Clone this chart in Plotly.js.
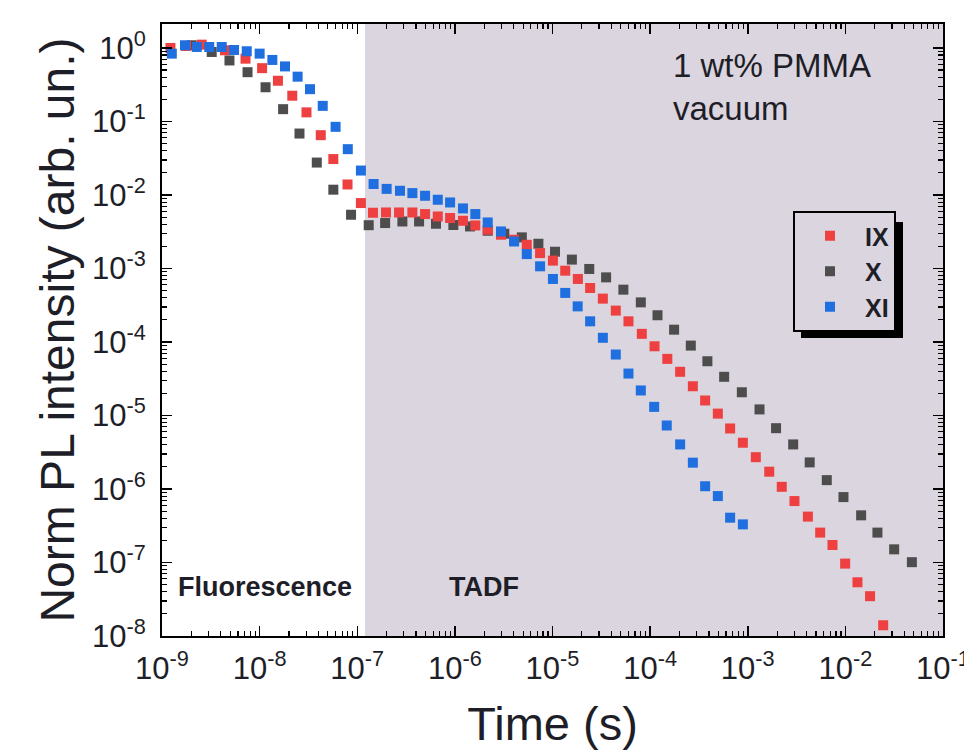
<!DOCTYPE html>
<html>
<head>
<meta charset="utf-8">
<script src="https://cdn.plot.ly/plotly-3.0.1.min.js"></script>
<style>html,body{margin:0;padding:0;background:#fff;}#chart{width:964px;height:752px;}</style>
</head>
<body>
<div id="chart"></div>
<script>
// ---- data ----
const seriesNames = ['IX', 'X', 'XI'];

const tIX = [1.22e-9, 1.76e-9, 2.55e-9, 4.42e-9, 7.17e-9, 1.06e-8, 1.54e-8, 2.16e-8, 3.02e-8, 4.23e-8,
  5.69e-8, 7.95e-8, 1.09e-7, 1.45e-7, 1.97e-7, 2.68e-7, 3.67e-7, 4.95e-7, 6.68e-7, 8.93e-7,
  1.21e-6, 1.62e-6, 2.17e-6, 2.97e-6, 4.04e-6, 5.45e-6, 7.46e-6, 1.01e-5, 1.35e-5, 1.82e-5,
  2.43e-5, 3.28e-5, 4.45e-5, 6.00e-5, 8.22e-5, 1.11e-4, 1.50e-4, 2.03e-4, 2.74e-4, 3.66e-4,
  4.94e-4, 6.60e-4, 8.91e-4, 1.21e-3, 1.66e-3, 2.23e-3, 3.01e-3, 4.13e-3, 5.52e-3, 7.38e-3,
  9.95e-3, 1.33e-2, 1.79e-2, 2.44e-2];
const yIX = [1.00, 1.065, 1.109, 0.930, 0.715, 0.531, 0.358, 0.224, 0.133, 0.0651,
  0.0308, 0.0139, 0.00776, 0.00573, 0.00578, 0.00578, 0.00578, 0.00550, 0.00510, 0.00486,
  0.00446, 0.00385, 0.00337, 0.00288, 0.00246, 0.00210, 0.00162, 0.00128, 9.33e-4, 7.20e-4,
  5.43e-4, 3.89e-4, 2.67e-4, 1.91e-4, 1.29e-4, 8.74e-5, 5.89e-5, 3.93e-5, 2.50e-5, 1.60e-5,
  1.06e-5, 6.66e-6, 4.26e-6, 2.71e-6, 1.72e-6, 1.07e-6, 6.85e-7, 4.21e-7, 2.55e-7, 1.73e-7,
  9.66e-8, 5.38e-8, 3.48e-8, 1.40e-8];

const tX = [2.01e-9, 3.23e-9, 4.91e-9, 7.52e-9, 1.15e-8, 1.74e-8, 2.56e-8, 3.85e-8, 5.69e-8, 8.64e-8,
  1.31e-7, 1.93e-7, 2.90e-7, 4.30e-7, 6.41e-7, 9.65e-7, 1.43e-6, 2.17e-6, 3.21e-6, 4.85e-6,
  7.17e-6, 1.06e-5, 1.58e-5, 2.38e-5, 3.54e-5, 5.32e-5, 8.03e-5, 1.19e-4, 1.76e-4, 2.61e-4,
  3.86e-4, 5.73e-4, 8.70e-4, 1.32e-3, 1.95e-3, 2.92e-3, 4.31e-3, 6.45e-3, 9.56e-3, 1.45e-2,
  2.13e-2, 3.16e-2, 4.80e-2];
const yX = [1.088, 0.882, 0.676, 0.468, 0.292, 0.147, 0.0685, 0.0276, 0.0118, 0.00538,
  0.00388, 0.00415, 0.00436, 0.00436, 0.00406, 0.00390, 0.00373, 0.00326, 0.00297, 0.00265,
  0.00217, 0.00169, 0.00132, 9.85e-4, 7.57e-4, 5.15e-4, 3.46e-4, 2.31e-4, 1.47e-4, 8.93e-5,
  5.47e-5, 3.36e-5, 2.07e-5, 1.21e-5, 6.72e-6, 4.04e-6, 2.30e-6, 1.32e-6, 7.76e-7, 4.38e-7,
  2.55e-7, 1.51e-7, 1.01e-7];

const tXI = [1.26e-9, 1.72e-9, 2.27e-9, 3.05e-9, 4.09e-9, 5.47e-9, 7.38e-9, 1.00e-8, 1.35e-8, 1.82e-8,
  2.45e-8, 3.28e-8, 4.43e-8, 6.00e-8, 8.00e-8, 1.09e-7, 1.47e-7, 2.00e-7, 2.74e-7, 3.67e-7,
  4.95e-7, 6.68e-7, 8.93e-7, 1.21e-6, 1.62e-6, 2.17e-6, 2.97e-6, 4.04e-6, 5.45e-6, 7.46e-6,
  1.01e-5, 1.35e-5, 1.81e-5, 2.43e-5, 3.28e-5, 4.45e-5, 6.00e-5, 8.03e-5, 1.10e-4, 1.48e-4,
  2.03e-4, 2.74e-4, 3.66e-4, 4.94e-4, 6.60e-4, 8.91e-4];
const yXI = [0.837, 1.088, 1.032, 1.03, 1.03, 0.939, 0.902, 0.837, 0.687, 0.561,
  0.407, 0.275, 0.163, 0.0845, 0.0420, 0.0215, 0.0141, 0.0121, 0.0114, 0.0106,
  0.00975, 0.00861, 0.00791, 0.00656, 0.00550, 0.00423, 0.00319, 0.00233, 0.00157, 0.00107,
  7.20e-4, 4.65e-4, 3.05e-4, 1.91e-4, 1.14e-4, 6.75e-5, 3.72e-5, 2.19e-5, 1.31e-5, 7.31e-6,
  4.04e-6, 2.28e-6, 1.09e-6, 8.01e-7, 4.07e-7, 3.30e-7];

const xTickVals = [1e-9, 1e-8, 1e-7, 1e-6, 1e-5, 1e-4, 1e-3, 1e-2, 1e-1];
const xTickText = ['10<sup>-9</sup>', '10<sup>-8</sup>', '10<sup>-7</sup>', '10<sup>-6</sup>', '10<sup>-5</sup>',
  '10<sup>-4</sup>', '10<sup>-3</sup>', '10<sup>-2</sup>', '10<sup>-1</sup>'];
const yTickVals = [1e-8, 1e-7, 1e-6, 1e-5, 1e-4, 1e-3, 1e-2, 1e-1, 1];
const yTickText = ['10<sup>-8</sup>', '10<sup>-7</sup>', '10<sup>-6</sup>', '10<sup>-5</sup>', '10<sup>-4</sup>',
  '10<sup>-3</sup>', '10<sup>-2</sup>', '10<sup>-1</sup>', '10<sup>0</sup>'];

const tadfStart = 1.2e-7;   // start of shaded TADF region
const tadfEnd = 1e-1;

// ---- styling ----
const W = 964, H = 752;
const M = {l: 162, r: 21, t: 24, b: 116};
const pw = W - M.l - M.r, ph = H - M.t - M.b;
const px = x => (x - M.l) / pw;        // pixel -> paper x
const py = y => (H - M.b - y) / ph;    // pixel -> paper y

const FONT = 'Liberation Sans, Arial, sans-serif';
const TXT = '#1e1e28';
const SHADE = '#dad5de';
const colors = {IX: '#ee4040', X: '#4d4d4d', XI: '#1f6fe0'};

function minorVals(lo, hi) {
  const v = [];
  for (let e = lo; e < hi; e++) for (let m = 2; m <= 9; m++) v.push(m * Math.pow(10, e));
  return v;
}

function mk(name, t, y, rank) {
  return {
    type: 'scatter', mode: 'markers', x: t, y: y, name: '<b>' + name + '</b>',
    legendrank: rank,
    marker: {symbol: 'square', size: 10, color: colors[name], line: {width: 0}},
    hoverinfo: 'skip'
  };
}

// drawing order: X under IX under XI
const traces = [
  mk(seriesNames[1], tX, yX, 2),
  mk(seriesNames[0], tIX, yIX, 1),
  mk(seriesNames[2], tXI, yXI, 3)
];

const axisCommon = {
  type: 'log', tickmode: 'array', ticks: 'inside', ticklen: 10, tickwidth: 1.5, tickcolor: '#000',
  showline: true, linewidth: 2, linecolor: '#000', mirror: 'allticks', showgrid: false, zeroline: false,
  tickfont: {family: FONT, size: 31, color: TXT}, automargin: false, ticklabeloverflow: 'allow'
};

const layout = {
  width: W, height: H, margin: M,
  paper_bgcolor: '#fff', plot_bgcolor: '#fff',
  showlegend: true,
  font: {family: FONT, color: TXT},
  xaxis: Object.assign({}, axisCommon, {
    range: [-9, -1], tickvals: xTickVals, ticktext: xTickText, ticklabelstandoff: 4,
    minor: {tickmode: 'array', tickvals: minorVals(-9, -1), ticks: 'inside', ticklen: 5, tickwidth: 1.2, tickcolor: '#000', showgrid: false},
    title: {text: 'Time (s)', font: {family: FONT, size: 47, color: TXT}, standoff: 22}
  }),
  yaxis: Object.assign({}, axisCommon, {
    range: [-8, 0.326], tickvals: yTickVals, ticktext: yTickText, ticklabelstandoff: 8,
    minor: {tickmode: 'array', tickvals: minorVals(-8, 0), ticks: 'inside', ticklen: 5, tickwidth: 1.2, tickcolor: '#000', showgrid: false},
    title: {text: 'Norm PL intensity (arb. un.)', font: {family: FONT, size: 48, color: TXT}, standoff: 2}
  }),
  shapes: [
    {type: 'rect', layer: 'below', xref: 'x', yref: 'paper', x0: tadfStart, x1: tadfEnd, y0: 0, y1: 1,
      fillcolor: SHADE, line: {width: 0}},
    // legend drop shadow
    {type: 'rect', layer: 'above', xref: 'paper', yref: 'paper', x0: px(801), x1: px(903), y0: py(338), y1: py(222),
      fillcolor: '#000', line: {width: 0}}
  ],
  legend: {
    x: px(793), y: py(211), xanchor: 'left', yanchor: 'top',
    bgcolor: SHADE, bordercolor: '#000', borderwidth: 2,
    font: {family: FONT, size: 25, color: TXT}, itemwidth: 60, tracegroupgap: 0
  },
  annotations: [
    {xref: 'paper', yref: 'paper', x: px(671), y: py(87), xanchor: 'left', yanchor: 'middle', align: 'left',
      showarrow: false, text: '1 wt% PMMA<br>vacuum', font: {family: FONT, size: 33, color: TXT}},
    {xref: 'paper', yref: 'paper', x: px(265), y: py(587), xanchor: 'center', yanchor: 'middle',
      showarrow: false, text: '<b>Fluorescence</b>', font: {family: FONT, size: 27, color: TXT}},
    {xref: 'paper', yref: 'paper', x: px(484), y: py(587), xanchor: 'center', yanchor: 'middle',
      showarrow: false, text: '<b>TADF</b>', font: {family: FONT, size: 27, color: TXT}}
  ]
};

Plotly.newPlot('chart', traces, layout, {staticPlot: true, displayModeBar: false});
</script>
</body>
</html>
